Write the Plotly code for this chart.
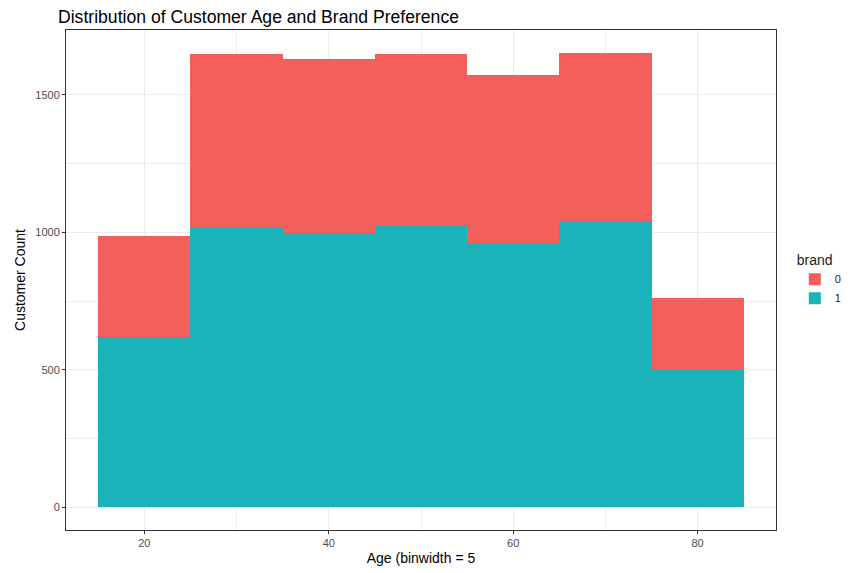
import plotly.graph_objects as go

# histogram bins (width 10)
bin_centers = [20, 30, 40, 50, 60, 70, 80]
brand_1 = [618, 1018, 997, 1023, 961, 1040, 500]
brand_0 = [368, 631, 634, 626, 612, 613, 261]

y_ticks = [0, 500, 1000, 1500]
x_ticks = [20, 40, 60, 80]

red = '#F35F5B'
teal = '#19B3B9'
grid = '#EBEBEB'

fig = go.Figure()
fig.add_bar(x=bin_centers, y=brand_1, width=10, name='1',
            marker={'color': teal, 'line': {'width': 0}})
fig.add_bar(x=bin_centers, y=brand_0, width=10, name='0',
            marker={'color': red, 'line': {'width': 0}})

# page body adds an 8px offset, margins compensate for it
fig.update_layout(
    width=851, height=573,
    barmode='stack', bargap=0,
    plot_bgcolor='white', paper_bgcolor='white',
    font={'family': 'Liberation Sans, Arial, sans-serif', 'color': 'black'},
    margin={'l': 51, 'r': 82, 't': 22, 'b': 51},
    title={'text': 'Distribution of Customer Age and Brand Preference',
           'x': 50 / 851, 'xanchor': 'left', 'y': 1, 'yanchor': 'top',
           'pad': {'t': 3}, 'font': {'size': 17.6}},
    legend={'title': {'text': 'brand', 'font': {'size': 14}},
            'traceorder': 'reversed', 'font': {'size': 11, 'color': '#1A1A1A'},
            'x': 1.0265, 'xanchor': 'left', 'y': 0.5, 'yanchor': 'middle',
            'itemwidth': 30, 'bgcolor': 'rgba(0,0,0,0)'},
    showlegend=True,
)

fig.update_xaxes(
    range=[11.5, 88.5], tickvals=x_ticks,
    showgrid=True, gridcolor=grid, gridwidth=1.1,
    minor={'tickvals': [30, 50, 70], 'showgrid': True, 'gridcolor': grid, 'gridwidth': 0.6},
    ticks='outside', ticklen=3, tickcolor='#333333',
    tickfont={'size': 11, 'color': '#4D4D4D'},
    showline=True, linecolor='#333333', linewidth=1, mirror=True,
    zeroline=False,
    title={'text': 'Age (binwidth = 5', 'font': {'size': 14}, 'standoff': 4},
)
fig.update_yaxes(
    range=[-82.6, 1735.6], tickvals=y_ticks,
    showgrid=True, gridcolor=grid, gridwidth=1.1,
    minor={'tickvals': [250, 750, 1250], 'showgrid': True, 'gridcolor': grid, 'gridwidth': 0.6},
    ticks='outside', ticklen=3, tickcolor='#333333',
    tickfont={'size': 11, 'color': '#4D4D4D'},
    showline=True, linecolor='#333333', linewidth=1, mirror=True,
    zeroline=False,
    title={'text': 'Customer Count', 'font': {'size': 14}, 'standoff': 6},
)

fig.write_html('out.html')
